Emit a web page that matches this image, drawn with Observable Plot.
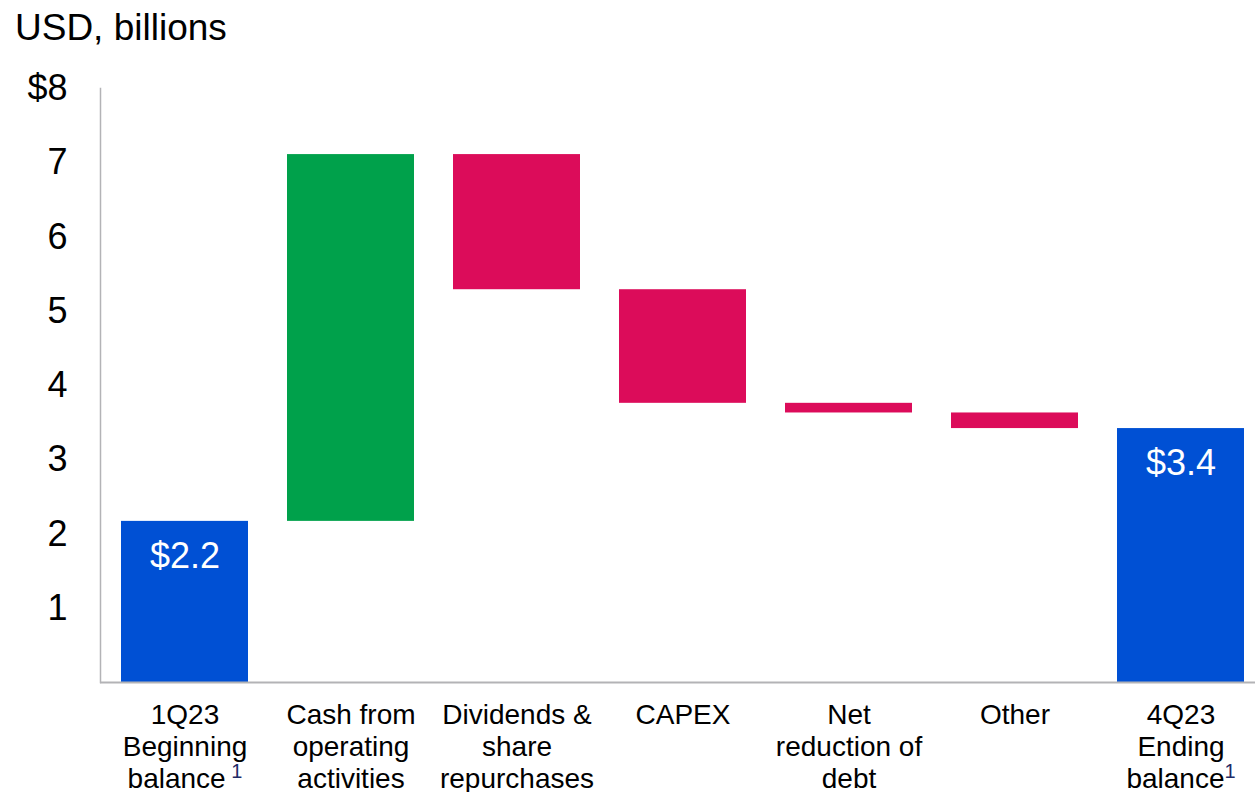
<!DOCTYPE html>
<html>
<head>
<meta charset="utf-8">
<script src="https://cdn.jsdelivr.net/npm/d3@7"></script>
<script src="https://cdn.jsdelivr.net/npm/@observablehq/plot@0.6"></script>
<style>
  html, body { margin: 0; padding: 0; background: #fff; }
  #wrap { position: relative; width: 1255px; height: 792px; overflow: hidden; font-family: "Liberation Sans", Arial, sans-serif; }
  #title { position: absolute; left: 15px; top: 6px; font-size: 37px; color: #000; line-height: 1.2; }
</style>
</head>
<body>
<div id="wrap"><div id="title">USD, billions</div></div>
<script>
// Data
const categories = [
  "1Q23\nBeginning\nbalance",
  "Cash from\noperating\nactivities",
  "Dividends &\nshare\nrepurchases",
  "CAPEX",
  "Net\nreduction of\ndebt",
  "Other",
  "4Q23\nEnding\nbalance"
];
const footnotes = ["1", "", "", "", "", "", "1"];
const footnoteGap = [" ", "", "", "", "", "", ""];
const kinds = ["total", "increase", "decrease", "decrease", "decrease", "decrease", "total"];
const values = [2.17, 4.94, -1.82, -1.53, -0.13, -0.21, 3.42];
const valueLabels = ["$2.2", "", "", "", "", "", "$3.4"];
const yTicks = [1, 2, 3, 4, 5, 6, 7, 8];
const yTickLabels = ["1", "2", "3", "4", "5", "6", "7", "$8"];

// Build waterfall table
let running = 0;
const data = categories.map((c, i) => {
  let y1, y2;
  if (kinds[i] === "total") { y1 = 0; y2 = values[i]; running = values[i]; }
  else { y1 = running; y2 = running + values[i]; running = y2; }
  return { cat: c, kind: kinds[i], y1, y2, top: Math.max(y1, y2), label: valueLabels[i] };
});

const font = '"Liberation Sans", Arial, sans-serif';
const grey = "#b3b3b6";

const chart = Plot.plot({
  width: 1255,
  height: 792,
  marginTop: 88,
  marginBottom: 110,
  marginLeft: 100,
  marginRight: 0,
  style: { fontFamily: font, background: "#fff", color: "#000", overflow: "visible" },
  x: { domain: categories, range: [100, 1265], paddingInner: 0.236, paddingOuter: 0.118, align: 0.5 },
  y: { domain: [0, 8] },
  color: { domain: ["total", "increase", "decrease"], range: ["#0050d4", "#00a14b", "#dc0c5a"] },
  marks: [
    Plot.barY(data, { x: "cat", y1: "y1", y2: "y2", fill: "kind" }),
    Plot.text(data.filter(d => d.label), { x: "cat", y: "top", text: "label", dy: 35, fill: "#fff", fontSize: 36 }),
    Plot.axisY({ ticks: yTicks, tickFormat: d => yTickLabels[yTicks.indexOf(d)], tickSize: 0, tickPadding: 33, fontSize: 36, label: null }),
    Plot.axisX({ tickSize: 0, tickPadding: 19, fontSize: 28, lineHeight: 32 / 28, label: null }),
    Plot.frame({ anchor: "left", stroke: grey, strokeWidth: 1.5 }),
    Plot.ruleY([0], { stroke: grey, strokeWidth: 2 })
  ]
});

document.getElementById("wrap").appendChild(chart);

// Superscript footnote markers on the axis labels
d3.select(chart).selectAll("g[aria-label='x-axis tick label'] text").each(function () {
  const full = Array.from(this.querySelectorAll("tspan")).map(s => s.textContent).join("\n") || this.textContent;
  const idx = categories.indexOf(full);
  if (idx < 0 || !footnotes[idx]) return;
  const spans = this.querySelectorAll("tspan");
  const last = spans.length ? spans[spans.length - 1] : this;
  d3.select(last).append("tspan")
    .attr("font-size", 20)
    .attr("fill", "#1f2b66")
    .attr("dy", -10)
    .text(footnoteGap[idx] + footnotes[idx]);
});
</script>
</body>
</html>
